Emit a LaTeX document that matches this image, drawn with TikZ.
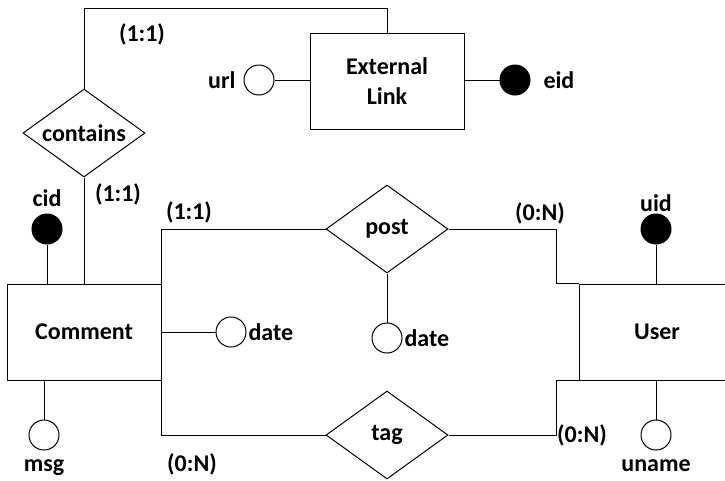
\documentclass[tikz,border=0pt]{standalone}
\usepackage{fontspec}
\setmainfont{Carlito}
\usetikzlibrary{shapes.geometric}
\begin{document}
\begin{tikzpicture}[x=1pt,y=-1pt,
  font=\fontsize{24}{30}\selectfont\bfseries,
  line width=1pt,
  entity/.style={draw, rectangle, minimum width=154pt, minimum height=96pt, align=center, inner sep=0pt},
  rel/.style={draw, diamond, minimum width=122pt, minimum height=88pt, inner sep=0pt, aspect=1.4},
  attr/.style={draw, circle, minimum size=30pt, inner sep=0pt, fill=white},
  keyattr/.style={draw, circle, minimum size=30pt, inner sep=0pt, fill=black},
  lbl/.style={inner sep=0pt}]
\useasboundingbox (0,0) rectangle (725,480);

% entities
\node[entity] (ext) at (387,81) {External\\Link};
\node[entity] (comment) at (84,332) {Comment};
\node[entity, minimum width=156pt] (user) at (657,332) {User};

% relationships
\node[rel] (contains) at (84,133) {contains};
\node[rel] (post) at (387,229) {post};
\node[rel] (tag) at (387,435) {tag};

% attributes
\node[attr] (url) at (259,80) {};
\node[lbl, anchor=east] (urll) at (236,80) {url};
\node[keyattr] (eid) at (515,80) {};
\node[lbl, anchor=west] (eidl) at (543,80) {eid};

\node[keyattr] (cid) at (47,229) {};
\node[lbl] (cidl) at (47,198) {cid};
\node[attr] (msg) at (44,435) {};
\node[lbl] (msgl) at (44,468) {msg};
\node[attr] (cdate) at (231,332) {};
\node[lbl, anchor=west] (cdatel) at (248,332) {date};

\node[attr] (pdate) at (387,338) {};
\node[lbl, anchor=west] (pdatel) at (404,338) {date};

\node[keyattr] (uid) at (656,229) {};
\node[lbl] (uidl) at (656,203) {uid};
\node[attr] (uname) at (656,435) {};
\node[lbl] (unamel) at (656,466) {uname};

% attribute links
\draw (url) -- (ext.west |- url);
\draw (eid) -- (ext.east |- eid);
\draw (cid) -- (cid |- comment.north);
\draw (msg) -- (msg |- comment.south);
\draw (cdate) -- (comment.east |- cdate);
\draw (pdate) -- (post.south);
\draw (uid) -- (uid |- user.north);
\draw (uname) -- (uname |- user.south);

% relationship links
\coordinate (top) at (84,8);
\draw (contains.north) -- (top) -- (ext.north |- top) -- (ext.north);
\draw (contains.south) -- (comment.north -| contains.south);
\draw (comment.north east) -- (comment.north east |- post.west) -- (post.west);
\draw (comment.south east) -- (comment.south east |- tag.west) -- (tag.west);
\coordinate (pbend) at (556,229);
\coordinate (tbend) at (556,435);
\draw (post.east) -- (pbend) -- (pbend |- user.north) -- (user.north west);
\draw (tag.east) -- (tbend) -- (tbend |- user.south) -- (user.south west);

% cardinalities
\node[lbl] (c1) at (142,34) {(1:1)};
\node[lbl] (c2) at (118,194) {(1:1)};
\node[lbl] (c3) at (189,212) {(1:1)};
\node[lbl] (c4) at (540,213) {(0:N)};
\node[lbl] (c5) at (192,464) {(0:N)};
\node[lbl] (c6) at (582,435) {(0:N)};
\end{tikzpicture}
\end{document}
